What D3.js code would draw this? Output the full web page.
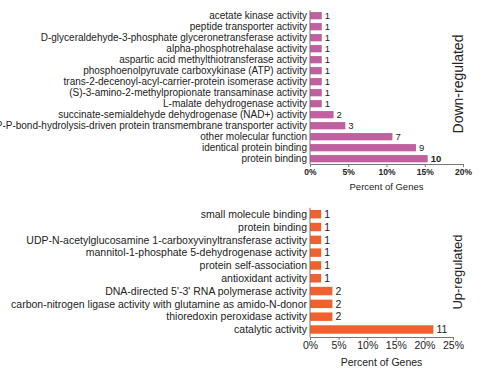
<!DOCTYPE html>
<html>
<head>
<meta charset="utf-8">
<script src="https://cdn.jsdelivr.net/npm/d3@7"></script>
<style>
  body { margin: 0; background: #fff; }
  svg { display: block; font-family: "Liberation Sans", Arial, sans-serif; }
</style>
</head>
<body>
<div id="chart"></div>
<script>
// --- data: down-regulated ---
const downTerms = [
  'acetate kinase activity',
  'peptide transporter activity',
  'D-glyceraldehyde-3-phosphate glyceronetransferase activity',
  'alpha-phosphotrehalase activity',
  'aspartic acid methylthiotransferase activity',
  'phosphoenolpyruvate carboxykinase (ATP) activity',
  'trans-2-decenoyl-acyl-carrier-protein isomerase activity',
  '(S)-3-amino-2-methylpropionate transaminase activity',
  'L-malate dehydrogenase activity',
  'succinate-semialdehyde dehydrogenase (NAD+) activity',
  'P-P-bond-hydrolysis-driven protein transmembrane transporter activity',
  'other molecular function',
  'identical protein binding',
  'protein binding'
]
const downCounts = [1, 1, 1, 1, 1, 1, 1, 1, 1, 2, 3, 7, 9, 10]
const downPercent = [1.54, 1.54, 1.54, 1.54, 1.54, 1.54, 1.54, 1.54, 1.54, 3.08, 4.62, 10.77, 13.85, 15.38]
const downTicks = [0, 5, 10, 15, 20]

// --- data: up-regulated ---
const upTerms = [
  'small molecule binding',
  'protein binding',
  'UDP-N-acetylglucosamine 1-carboxyvinyltransferase activity',
  'mannitol-1-phosphate 5-dehydrogenase activity',
  'protein self-association',
  'antioxidant activity',
  "DNA-directed 5'-3' RNA polymerase activity",
  'carbon-nitrogen ligase activity with glutamine as amido-N-donor',
  'thioredoxin peroxidase activity',
  'catalytic activity'
]
const upCounts = [1, 1, 1, 1, 1, 1, 2, 2, 2, 11]
const upPercent = [1.96, 1.96, 1.96, 1.96, 1.96, 1.96, 3.92, 3.92, 3.92, 21.57]
const upTicks = [0, 5, 10, 15, 20, 25]

const width = 487
const height = 378

const svg = d3.select('#chart').append('svg')
  .attr('width', width)
  .attr('height', height)

function drawPanel(opt) {
  const rows = opt.terms.map((t, i) => ({ term: t, count: opt.counts[i], pct: opt.percent[i] }))

  const x = d3.scaleLinear()
    .domain([0, opt.ticks[opt.ticks.length - 1]])
    .range([opt.x0, opt.x1])

  const y = d3.scaleBand()
    .domain(opt.terms)
    .range([opt.y0, opt.y1])
    .paddingInner(opt.pad)
    .paddingOuter(opt.pad / 2)

  const g = svg.append('g')

  // bars
  g.selectAll('rect.bar')
    .data(rows)
    .join('rect')
      .attr('class', 'bar')
      .attr('x', x(0))
      .attr('y', d => y(d.term))
      .attr('width', d => x(d.pct) - x(0))
      .attr('height', y.bandwidth())
      .attr('fill', opt.color)

  // count labels
  g.selectAll('text.count')
    .data(rows)
    .join('text')
      .attr('class', 'count')
      .attr('x', d => x(d.pct) + 3)
      .attr('y', d => y(d.term) + y.bandwidth() / 2)
      .attr('dy', '0.35em')
      .attr('font-size', opt.countFs)
      .attr('font-weight', d => d.count >= 10 && opt.boldTen ? 'bold' : 'normal')
      .attr('fill', '#222')
      .text(d => d.count)

  // category labels (long ones run off the left edge, as in the original)
  g.selectAll('text.term')
    .data(rows)
    .join('text')
      .attr('class', 'term')
      .attr('x', x(0) - 3)
      .attr('y', d => y(d.term) + y.bandwidth() / 2)
      .attr('dy', '0.35em')
      .attr('text-anchor', 'end')
      .attr('font-size', opt.fs)
      .attr('fill', '#222')
      .text(d => d.term)

  // y axis line
  g.append('line')
    .attr('x1', x(0)).attr('x2', x(0))
    .attr('y1', opt.y0).attr('y2', opt.axisY)
    .attr('stroke', '#777')
    .attr('stroke-width', 1)

  // x axis
  const xAxis = d3.axisBottom(x)
    .tickValues(opt.ticks)
    .tickSize(3)
    .tickFormat(d => d + '%')

  const ax = g.append('g')
    .attr('transform', `translate(0,${opt.axisY})`)
    .call(xAxis)
  ax.select('.domain').attr('stroke', '#777')
  ax.selectAll('.tick line').attr('stroke', '#777')
  ax.selectAll('.tick text')
    .attr('font-size', opt.tickFs)
    .attr('font-family', '"Liberation Sans", Arial, sans-serif')
    .attr('font-weight', opt.tickBold ? 'bold' : 'normal')
    .attr('fill', '#222')
    .attr('dy', opt.tickDy)

  // axis title
  g.append('text')
    .attr('x', (opt.x0 + opt.x1) / 2)
    .attr('y', opt.titleY)
    .attr('text-anchor', 'middle')
    .attr('font-size', opt.titleFs)
    .attr('fill', '#222')
    .text('Percent of Genes')

  // side label
  g.append('text')
    .attr('transform', `translate(${opt.sideX},${opt.sideY}) rotate(-90)`)
    .attr('text-anchor', 'middle')
    .attr('font-size', opt.sideFs)
    .attr('fill', '#222')
    .text(opt.side)
}

drawPanel({
  terms: downTerms, counts: downCounts, percent: downPercent, ticks: downTicks,
  color: '#c060a1',
  x0: 310, x1: 463, y0: 10.2, y1: 164.2, pad: 0.34, axisY: 164,
  fs: 10, countFs: 9.5, tickFs: 8.5, tickBold: true, tickDy: '0.6em', boldTen: true,
  titleY: 190, titleFs: 9.5,
  side: 'Down-regulated', sideX: 463, sideY: 84, sideFs: 14
})

drawPanel({
  terms: upTerms, counts: upCounts, percent: upPercent, ticks: upTicks,
  color: '#f1612d',
  x0: 310, x1: 453, y0: 207.8, y1: 335.9, pad: 0.34, axisY: 337,
  fs: 10.5, countFs: 10.5, tickFs: 10.5, tickBold: false, tickDy: '0.55em', boldTen: false,
  titleY: 366, titleFs: 10.5,
  side: 'Up-regulated', sideX: 462, sideY: 272, sideFs: 13
})
</script>
</body>
</html>
